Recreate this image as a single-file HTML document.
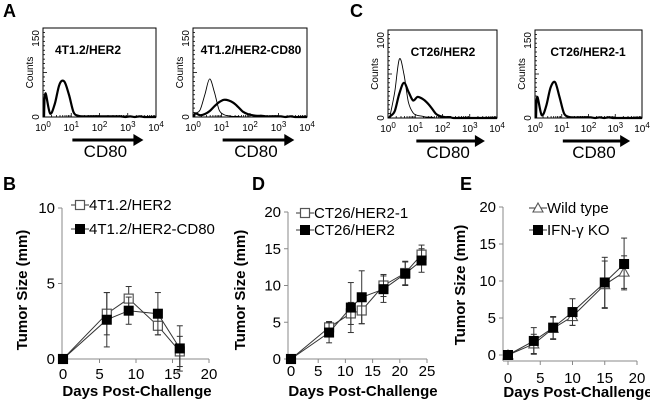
<!DOCTYPE html>
<html><head><meta charset="utf-8"><style>
html,body{margin:0;padding:0;background:#fff;}
svg{display:block;font-family:"Liberation Sans",sans-serif;}
</style></head><body>
<svg id="fig" width="650" height="407" viewBox="0 0 650 407"></svg>
<script>
// ---------- Flow histogram data (counts per bin, 24 bins over 4 decades) ----------
const histA1Thick = [40,6,22,55,60,38,8,2,1,1,1,1,1,1,1,1,1,0,1,0,1,0,0,0];
const histA2Thin  = [6,12,38,64,42,12,4,2,1,1,0,0,0,0,0,0,0,0,0,0,0,0,0,0];
const histA2Thick = [6,3,5,10,18,25,29,28,24,17,9,5,3,2,2,1,1,1,1,0,1,0,0,0];
const histC1Thin  = [4,30,67,50,18,6,3,2,1,1,0,0,0,0,0,0,0,0,0,0,0,0,0,0];
const histC1Thick = [2,8,28,40,30,20,24,22,18,12,5,2,1,1,0,0,0,0,0,0,0,0,0,0];
const histC2Thick = [36,5,20,52,61,36,8,2,1,1,1,1,1,0,1,0,1,0,0,0,0,0,0,0];
const decadeLabels = ["0","1","2","3","4"];

// ---------- Tumor growth data ----------
const daysB = [0,6,9,13,16];
const bOpen = [0,3.0,4.0,2.2,0.5];
const bOpenErr = [0,1.4,0.8,0.6,1.0];
const bFilled = [0,2.6,3.2,3.0,0.7];
const bFilledErr = [0,1.8,0.9,1.4,1.5];
const bYTicks = [0,5,10];
const bXTicks = [0,5,10,15,20];

const daysD = [0,7,11,13,17,21,24];
const dOpen = [0,4.3,6.2,6.6,10.0,11.7,14.2];
const dOpenErr = [0,0.8,1.5,1.8,1.5,1.6,1.3];
const dFilled = [0,3.6,7.0,8.4,9.5,11.6,13.4];
const dFilledErr = [0,1.4,3.4,3.6,1.8,1.6,1.6];
const dYTicks = [0,5,10,15,20];
const dXTicks = [0,5,10,15,20,25];

const daysE = [0,4,7,10,15,18];
const eOpen = [0,1.5,3.6,5.2,9.5,11.2];
const eOpenErr = [0,1.3,1.5,1.2,3.2,2.2];
const eFilled = [0,1.9,3.7,5.8,9.8,12.3];
const eFilledErr = [0,1.8,1.5,1.8,3.4,3.5];
const eYTicks = [0,5,10,15,20];
const eXTicks = [0,5,10,15,20];

const NS="http://www.w3.org/2000/svg";
const svg=document.getElementById('fig');
function mk(tag,attrs,parent){const e=document.createElementNS(NS,tag);for(const k in attrs)e.setAttribute(k,attrs[k]);(parent||svg).appendChild(e);return e;}
function txt(s,attrs,parent){const t=mk('text',attrs,parent);t.textContent=s;return t;}

// panel letters
[["A",3,17],["C",350,17],["B",3,190],["D",252,190],["E",460,190]].forEach(p=>{
  const t=txt(p[0],{x:p[1],y:p[2],'font-size':18,'font-weight':'bold'});
  
  
});

// ---------- Flow histograms ----------
function smoothPath(pts){
  let d='M'+pts[0][0].toFixed(1)+','+pts[0][1].toFixed(1);
  for(let i=0;i<pts.length-1;i++){
    const p0=pts[Math.max(0,i-1)],p1=pts[i],p2=pts[i+1],p3=pts[Math.min(pts.length-1,i+2)];
    const c1=[p1[0]+(p2[0]-p0[0])/6,p1[1]+(p2[1]-p0[1])/6];
    const c2=[p2[0]-(p3[0]-p1[0])/6,p2[1]-(p3[1]-p1[1])/6];
    d+=' C'+c1[0].toFixed(1)+','+c1[1].toFixed(1)+' '+c2[0].toFixed(1)+','+c2[1].toFixed(1)+' '+p2[0].toFixed(1)+','+p2[1].toFixed(1);
  }
  return d;
}
function flow(name,x0,x1,y0,y1,ymax,title,titleX,series){
  const g=mk('g',{});
  
  
  const box=mk('rect',{x:x0,y:y0,width:x1-x0,height:y1-y0,fill:'none',stroke:'#000','stroke-width':1},g);
  
  
  const w=x1-x0;
  const xs=v=>x0+v/4*w;
  const ys=c=>y1-c/ymax*(y1-y0);
  for(let d=0;d<4;d++)for(let k=1;k<10;k++){const xx=xs(d+Math.log10(k));mk('line',{x1:xx,x2:xx,y1:y1,y2:y1-(k==1?4:2),stroke:'#000','stroke-width':0.8},g);}
  for(let i=0;i<=20;i++){const yy=y1-i*(y1-y0)/20;mk('line',{x1:x0,x2:x0+(i%10==0?4:2),y1:yy,y2:yy,stroke:'#000','stroke-width':0.8},g);}
  series.forEach(s=>{
    const arr=s.data;const n=arr.length;
    const pts=[[x0+1,y1]].concat(arr.map((c,i)=>[xs((i+0.5)/n*4),ys(c)])).concat([[x1,y1]]);
    const p=mk('path',{d:smoothPath(pts),fill:'none',stroke:'#000','stroke-width':s.w,'stroke-linejoin':'round'},g);
    
    
  });
  decadeLabels.forEach((l,i)=>{
    const t=mk('text',{x:xs(i),y:y1+14,'font-size':10,'text-anchor':'middle'},g);
    t.innerHTML='10<tspan dy="-4" font-size="8">'+l+'</tspan>';
    
    
  });
  const cy=(y0+y1)/2;
  const yl=txt('Counts',{x:x0-10,y:cy,'font-size':10,'text-anchor':'middle',transform:'rotate(-90 '+(x0-10)+' '+cy+')'},g);
  
  
  txt('0',{x:x0-4,y:y1,'font-size':10,'text-anchor':'middle',transform:'rotate(-90 '+(x0-4)+' '+y1+')'},g);
  txt(String(ymax),{x:x0-4,y:y0+2,'font-size':10,'text-anchor':'end',transform:'rotate(-90 '+(x0-4)+' '+(y0+2)+')'},g);
  const tt=txt(title,{x:titleX,y:y0+26,'font-size':12,'font-weight':'bold','text-anchor':'middle'},g);
  
  
  const ax=x0+w*0.26, bx=x0+w*0.88, ay=y1+23;
  const ar=mk('g',{},g);
  
  
  mk('line',{x1:ax,x2:bx-4,y1:ay,y2:ay,stroke:'#000','stroke-width':3},ar);
  mk('polygon',{points:(bx-9)+','+(ay-6)+' '+(bx+1)+','+ay+' '+(bx-9)+','+(ay+6),fill:'#000'},ar);
  const cl=txt('CD80',{x:(ax+bx)/2-2,y:ay+17,'font-size':17,'text-anchor':'middle'},g);
  
  
}
flow('histogram-4t1-her2',43,156,28,117,150,'4T1.2/HER2',88,[{data:histA1Thick,w:2.2,name:'histogram-thick'}]);
flow('histogram-4t1-her2-cd80',193,307,28,117,150,'4T1.2/HER2-CD80',251,[{data:histA2Thin,w:0.9,name:'histogram-control'},{data:histA2Thick,w:2.2,name:'histogram-cd80'}]);
flow('histogram-ct26-her2',388,497,30,118,100,'CT26/HER2',443,[{data:histC1Thin,w:0.9,name:'histogram-control'},{data:histC1Thick,w:2.2,name:'histogram-cd80'}]);
flow('histogram-ct26-her2-1',535,642,30,118,150,'CT26/HER2-1',588,[{data:histC2Thick,w:2.2,name:'histogram-thick'}]);

// ---------- Line charts ----------
function lineChart(cfg){
  const g=mk('g',{});
  
  
  const xs=v=>cfg.px0+(v-cfg.xMin)/(cfg.xMax-cfg.xMin)*(cfg.px1-cfg.px0);
  const ys=v=>cfg.py0-(v/cfg.yMax)*(cfg.py0-cfg.py1);
  const yax=mk('line',{x1:cfg.ax,x2:cfg.ax,y1:ys(cfg.yMax),y2:cfg.axisY,stroke:'#888','stroke-width':1},g);
  
  
  const xax=mk('line',{x1:cfg.ax,x2:xs(cfg.xMax),y1:cfg.axisY,y2:cfg.axisY,stroke:'#888','stroke-width':1},g);
  
  
  cfg.yTicks.forEach(v=>{
    mk('line',{x1:cfg.ax-4,x2:cfg.ax,y1:ys(v),y2:ys(v),stroke:'#888'},g);
    const t=txt(String(v),{x:cfg.ax-7,y:ys(v)+5,'font-size':15,'text-anchor':'end'},g);
    
    
  });
  cfg.xTicks.forEach(v=>{
    mk('line',{x1:xs(v),x2:xs(v),y1:cfg.axisY,y2:cfg.axisY+4,stroke:'#888'},g);
    const t=txt(String(v),{x:xs(v),y:cfg.xLabY,'font-size':15,'text-anchor':'middle'},g);
    
    
  });
  const yt=txt('Tumor Size (mm)',{x:cfg.ytx,y:cfg.yty,'font-size':15,'font-weight':'bold','text-anchor':'middle',transform:'rotate(-90 '+cfg.ytx+' '+cfg.yty+')'},g);
  
  
  const xt=txt('Days Post-Challenge',{x:cfg.xtx,y:cfg.xty,'font-size':15,'font-weight':'bold','text-anchor':'middle'},g);
  
  
  function marker(x,y,type,parent){
    if(type==='open') return mk('rect',{x:x-4.5,y:y-4.5,width:9,height:9,fill:'#fff',stroke:'#555','stroke-width':1.2},parent);
    if(type==='tri') return mk('polygon',{points:(x)+','+(y-5)+' '+(x+5)+','+(y+4)+' '+(x-5)+','+(y+4),fill:'#fff',stroke:'#555','stroke-width':1.1},parent);
    return mk('rect',{x:x-5,y:y-5,width:10,height:10,fill:'#000'},parent);
  }
  cfg.series.forEach(s=>{
    const sg=mk('g',{},g);
    
    
    s.vals.forEach((v,i)=>{
      const e=s.err[i];if(!e)return;
      const x=xs(cfg.days[i]);
      mk('line',{x1:x,x2:x,y1:ys(v-e),y2:ys(v+e),stroke:'#333','stroke-width':1},sg);
      mk('line',{x1:x-3,x2:x+3,y1:ys(v-e),y2:ys(v-e),stroke:'#333','stroke-width':1},sg);
      mk('line',{x1:x-3,x2:x+3,y1:ys(v+e),y2:ys(v+e),stroke:'#333','stroke-width':1},sg);
    });
    const pts=s.vals.map((v,i)=>xs(cfg.days[i]).toFixed(1)+','+ys(v).toFixed(1)).join(' ');
    const pl=mk('polyline',{points:pts,fill:'none',stroke:'#333','stroke-width':1},sg);
    
    
    s.vals.forEach((v,i)=>{
      const m=marker(xs(cfg.days[i]),ys(v),s.type,sg);
      
      
    });
  });
  cfg.legend.forEach((l,i)=>{
    const lg=mk('g',{},g);
    
    
    mk('line',{x1:l.mx-9,x2:l.mx+9,y1:l.y,y2:l.y,stroke:'#333','stroke-width':1},lg);
    marker(l.mx,l.y,cfg.series[i].type,lg);
    txt(l.label,{x:l.mx+9,y:l.y+5,'font-size':15},lg);
  });
}
lineChart({name:'chart-b-tumor-size',days:daysB,xMin:0,xMax:20,px0:63,px1:209,py0:359,py1:208,yMax:10,ax:62,axisY:359,
  yTicks:bYTicks,xTicks:bXTicks,xLabY:379,ytx:27,yty:290,xtx:137,xty:396,
  series:[{name:'series-4t1-her2',vals:bOpen,err:bOpenErr,type:'open'},{name:'series-4t1-her2-cd80',vals:bFilled,err:bFilledErr,type:'filled'}],
  legend:[{mx:80,y:205,label:'4T1.2/HER2'},{mx:80,y:229,label:'4T1.2/HER2-CD80'}]});
lineChart({name:'chart-d-tumor-size',days:daysD,xMin:0,xMax:25,px0:291,px1:427,py0:359,py1:212,yMax:20,ax:288,axisY:359,
  yTicks:dYTicks,xTicks:dXTicks,xLabY:376,ytx:245,yty:290,xtx:363,xty:396,
  series:[{name:'series-ct26-her2-1',vals:dOpen,err:dOpenErr,type:'open'},{name:'series-ct26-her2',vals:dFilled,err:dFilledErr,type:'filled'}],
  legend:[{mx:305,y:213,label:'CT26/HER2-1'},{mx:305,y:230,label:'CT26/HER2'}]});
lineChart({name:'chart-e-tumor-size',days:daysE,xMin:0,xMax:20,px0:508,px1:637,py0:355,py1:207,yMax:20,ax:503,axisY:361,
  yTicks:eYTicks,xTicks:eXTicks,xLabY:383,ytx:465,yty:285,xtx:578,xty:397,
  series:[{name:'series-wild-type',vals:eOpen,err:eOpenErr,type:'tri'},{name:'series-ifn-gamma-ko',vals:eFilled,err:eFilledErr,type:'filled'}],
  legend:[{mx:538,y:208,label:'Wild type'},{mx:538,y:230,label:'IFN-γ KO'}]});
</script>
</body></html>
